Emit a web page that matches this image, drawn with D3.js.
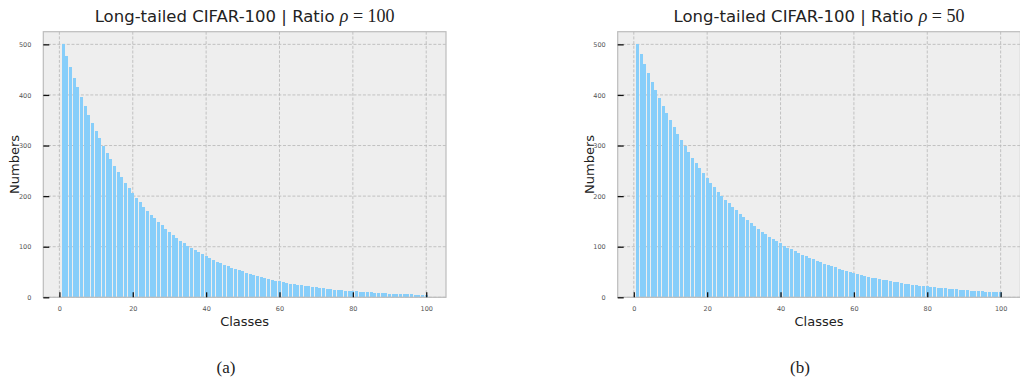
<!DOCTYPE html>
<html>
<head>
<meta charset="utf-8">
<script src="https://cdn.jsdelivr.net/npm/d3@7/dist/d3.min.js"></script>
<style>
  html, body { margin: 0; padding: 0; background: #ffffff; }
  svg { display: block; }
</style>
</head>
<body>
<svg id="chart" width="1020" height="380"></svg>
<script>
// ---- data ----
const classes = d3.range(1, 101); // class index 1..100
const countsRho100 = [
  500,477,455,434,415,396,378,361,344,328,
  314,299,286,273,260,248,237,226,216,206,
  197,188,179,171,163,156,149,142,135,129,
  123,118,112,107,102,98,93,89,85,81,
  77,74,70,67,64,61,58,56,53,51,
  48,46,44,42,40,38,36,35,33,32,
  30,29,27,26,25,24,23,22,21,20,
  19,18,17,16,15,15,14,13,13,12,
  12,11,11,10,10,9,9,8,8,7,
  7,7,6,6,6,6,5,5,5,5
];
const countsRho50 = [
  500,480,462,444,426,410,394,379,364,350,
  336,323,311,299,287,276,265,255,245,235,
  226,218,209,201,193,186,178,172,165,158,
  152,146,141,135,130,125,120,115,111,107,
  102,98,95,91,87,84,81,78,75,72,
  69,66,64,61,59,56,54,52,50,48,
  46,44,43,41,39,38,36,35,34,32,
  31,30,29,27,26,25,24,23,22,22,
  21,20,19,18,18,17,16,16,15,14,
  14,13,13,12,12,11,11,10,10,10
];
const xTicks = [0, 20, 40, 60, 80, 100];
const yTicks = [0, 100, 200, 300, 400, 500];
const titleText = "Long-tailed CIFAR-100 | Ratio ";
const panels = [
  { values: countsRho100, rho: "100", caption: "(a)" },
  { values: countsRho50,  rho: "50",  caption: "(b)" }
];

// ---- layout ----
const svg = d3.select("#chart");
const axW = 402.7, axH = 265.6, axTop = 31.7;
const panelLeft = [43.3, 617.7];
const barWidth = 0.8;

panels.forEach((p, pi) => {
  const g = svg.append("g").attr("transform", `translate(${panelLeft[pi]},${axTop})`);
  const x = d3.scaleLinear().domain([-4.39, 105.39]).range([0, axW]);
  const y = d3.scaleLinear().domain([0, 525]).range([axH, 0]);

  // background
  g.append("rect").attr("x", 0).attr("y", 0).attr("width", axW).attr("height", axH)
    .attr("fill", "#eeeeee");

  // grid
  const grid = g.append("g").attr("stroke", "#b6b6b6").attr("stroke-width", 0.8)
    .attr("stroke-dasharray", "3,1.7");
  grid.selectAll("line.v").data(xTicks).join("line").attr("class", "v")
    .attr("x1", d => x(d)).attr("x2", d => x(d)).attr("y1", 0).attr("y2", axH);
  grid.selectAll("line.h").data(yTicks).join("line").attr("class", "h")
    .attr("x1", 0).attr("x2", axW).attr("y1", d => y(d)).attr("y2", d => y(d));

  // bars
  g.append("g").selectAll("rect").data(p.values).join("rect")
    .attr("x", (d, i) => x(classes[i] - barWidth / 2))
    .attr("width", (d, i) => x(classes[i] + barWidth / 2) - x(classes[i] - barWidth / 2))
    .attr("y", d => y(d))
    .attr("height", d => y(0) - y(d))
    .attr("fill", "#87cefa")
    .attr("shape-rendering", "crispEdges");

  // frame
  g.append("rect").attr("x", 0).attr("y", 0).attr("width", axW).attr("height", axH)
    .attr("fill", "none").attr("stroke", "#bcbcbc").attr("stroke-width", 1.2);

  // x axis (inner ticks)
  const xAxis = d3.axisBottom(x).tickValues(xTicks).tickSize(-5).tickPadding(9)
    .tickFormat(d3.format("d"));
  const gx = g.append("g").attr("transform", `translate(0,${axH})`).call(xAxis);
  gx.select(".domain").remove();
  gx.selectAll(".tick line").attr("stroke", "#111").attr("stroke-width", 1.3);
  gx.selectAll(".tick text").attr("fill", "#555").attr("font-size", "6.5px")
    .attr("font-family", "DejaVu Sans");

  // y axis (inner ticks)
  const yAxis = d3.axisLeft(y).tickValues(yTicks).tickSize(-6).tickPadding(12)
    .tickFormat(d3.format("d"));
  const gy = g.append("g").call(yAxis);
  gy.select(".domain").remove();
  gy.selectAll(".tick line").attr("stroke", "#111").attr("stroke-width", 1.3);
  gy.selectAll(".tick text").attr("fill", "#555").attr("font-size", "6.5px")
    .attr("font-family", "DejaVu Sans");

  // title
  const t = g.append("text").attr("x", axW / 2).attr("y", 22 - axTop)
    .attr("text-anchor", "middle").attr("fill", "#222")
    .attr("font-family", "DejaVu Sans").attr("font-size", "16.5px");
  t.append("tspan").text(titleText);
  t.append("tspan").attr("font-family", "Liberation Serif").attr("font-style", "italic")
    .attr("font-size", "18px").text("ρ");
  t.append("tspan").attr("font-family", "Liberation Serif").attr("font-size", "18px")
    .text(" = " + p.rho);

  // axis labels
  g.append("text").attr("x", axW / 2).attr("y", 326 - axTop)
    .attr("text-anchor", "middle").attr("fill", "#222")
    .attr("font-family", "DejaVu Sans").attr("font-size", "13px").text("Classes");
  g.append("text")
    .attr("transform", `translate(${-24},${axH / 2}) rotate(-90)`)
    .attr("text-anchor", "middle").attr("fill", "#222")
    .attr("font-family", "DejaVu Sans").attr("font-size", "13px").text("Numbers");

  // caption
  g.append("text").attr("x", (pi === 0 ? 226 : 800) - panelLeft[pi]).attr("y", 373 - axTop)
    .attr("text-anchor", "middle").attr("fill", "#222")
    .attr("font-family", "Liberation Serif").attr("font-size", "17px").text(p.caption);
});
</script>
</body>
</html>
